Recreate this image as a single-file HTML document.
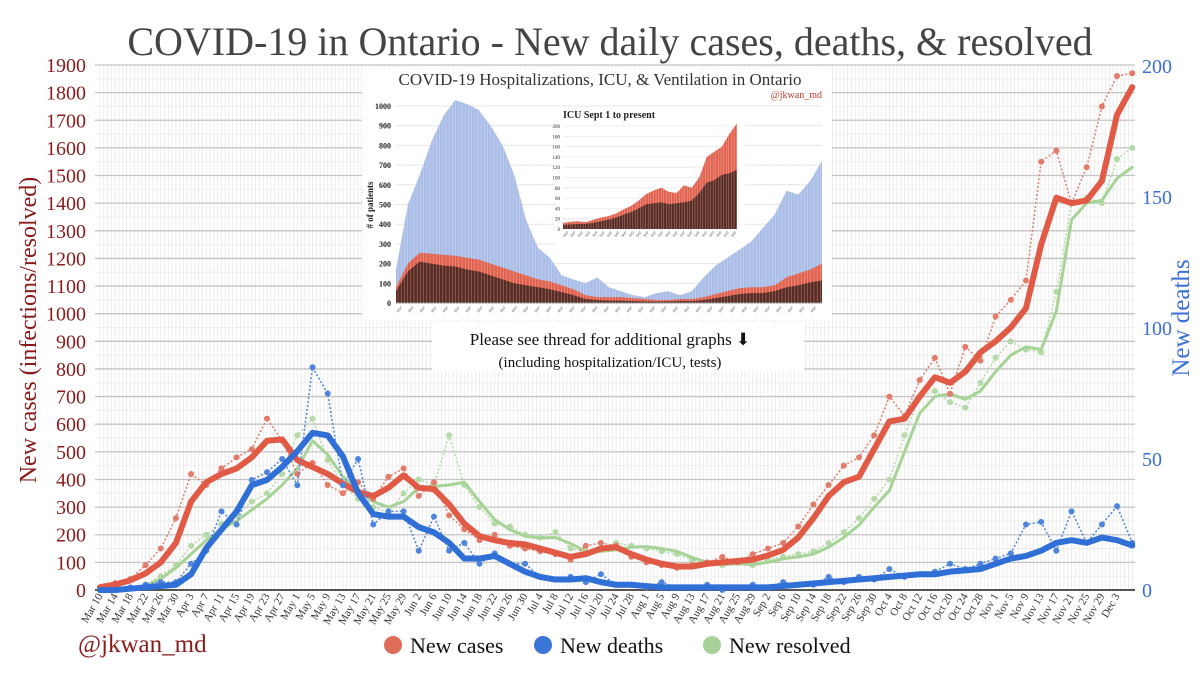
<!DOCTYPE html>
<html><head><meta charset="utf-8">
<style>
html,body{margin:0;padding:0;background:#fff;}
svg{display:block;font-family:"Liberation Serif",serif;}
</style></head>
<body>
<svg id="chart" width="1200" height="683" viewBox="0 0 1200 683" xmlns="http://www.w3.org/2000/svg">
<rect x="0" y="0" width="1200" height="683" fill="#fff"/>
<text x="610" y="55" text-anchor="middle" font-size="40" fill="#444">COVID-19 in Ontario - New daily cases, deaths, &amp; resolved</text>
<g id="grid"></g>
<g id="yleft"></g>
<g id="yright"></g>
<g id="xaxis"></g>
<text transform="translate(36,330) rotate(-90)" text-anchor="middle" font-size="24" fill="#8b1a1a">New cases (infections/resolved)</text>
<text transform="translate(1189,318) rotate(-90)" text-anchor="middle" font-size="25" fill="#3a6fd8">New deaths</text>
<g id="series"></g>
<g id="inset"></g>
<g>
<rect x="432" y="322" width="372" height="50" fill="#fff"/>
<text x="610" y="345" text-anchor="middle" font-size="17" fill="#111">Please see thread for additional graphs ⬇</text>
<text x="610" y="367" text-anchor="middle" font-size="15" fill="#111">(including hospitalization/ICU, tests)</text>
</g>
<text x="78" y="652" font-size="25" fill="#8b1a1a">@jkwan_md</text>
<g>
<g><circle cx="393" cy="645" r="9" fill="#e06c5a"/><text x="410" y="653" font-size="22" fill="#111">New cases</text></g>
<g><circle cx="543" cy="645" r="9" fill="#3c75d8"/><text x="560" y="653" font-size="22" fill="#111">New deaths</text></g>
<g><circle cx="712" cy="645" r="9" fill="#a8d19a"/><text x="729" y="653" font-size="22" fill="#111">New resolved</text></g>
</g>
</svg>
<script>
const casesAvg=[10,20,35,60,100,170,320,390,420,440,480,540,545,470,445,420,385,355,340,370,415,370,365,310,240,195,180,170,165,150,135,120,130,150,155,130,110,95,85,85,95,100,105,110,125,145,190,260,340,390,410,510,610,620,700,770,750,790,860,900,950,1020,1250,1420,1400,1410,1480,1720,1820];
const casesRaw=[5,25,40,90,150,260,420,380,440,480,510,620,540,420,460,380,350,390,330,410,440,340,390,270,220,180,200,160,150,140,130,110,160,170,160,120,100,90,80,90,100,120,100,130,150,170,230,310,380,450,480,560,700,630,760,840,710,880,830,990,1050,1120,1550,1590,1400,1530,1750,1860,1870];
const deathsAvg=[0,0,0.5,1,1.5,2,6,16,23,30,40,42,47,53,60,59,51,37,29,28,28,24,22,18,12,12,13,10,7,5,4,4,4.5,3,2,2,1.5,1,1,1,1,1,1,1,1,1.5,2,2.5,3,3.5,4,4.5,5,5.5,6,6,7,7.5,8,10,12,13,15,18,19,18,20,19,17];
const deathsRaw=[0,0,1,2,3,3,10,15,30,25,42,45,50,40,85,75,40,50,25,30,30,15,28,15,18,10,14,10,10,5,4,5,3,6,2,2,1,3,1,1,2,0,1,2,1,3,2,2,5,3,5,4,8,5,6,7,10,8,10,12,14,25,26,15,30,18,25,32,18];
const resolvedAvg=[0,0,5,15,40,80,130,180,220,250,290,330,380,440,540,490,410,360,320,300,320,370,375,380,390,320,255,218,195,188,190,168,140,140,145,155,157,150,140,118,100,92,95,92,100,113,120,130,155,190,235,300,360,500,640,700,710,690,720,790,850,880,870,1010,1340,1400,1410,1490,1530];
const resolvedRaw=[0,0,5,20,50,90,160,200,240,270,320,350,420,560,620,470,380,330,300,280,350,400,380,560,380,300,240,230,200,190,210,150,140,150,170,160,150,140,130,110,95,90,100,90,110,120,130,140,170,210,260,330,400,560,700,720,680,660,750,840,900,870,860,1080,1400,1420,1400,1560,1600];
const leftTicks=[0,100,200,300,400,500,600,700,800,900,1000,1100,1200,1300,1400,1500,1600,1700,1800,1900];
const rightTicks=[0,50,100,150,200];
const xLabels=["Mar 10","Mar 14","Mar 18","Mar 22","Mar 26","Mar 30","Apr 3","Apr 7","Apr 11","Apr 15","Apr 19","Apr 23","Apr 27","May 1","May 5","May 9","May 13","May 17","May 21","May 25","May 29","Jun 2","Jun 6","Jun 10","Jun 14","Jun 18","Jun 22","Jun 26","Jun 30","Jul 4","Jul 8","Jul 12","Jul 16","Jul 20","Jul 24","Jul 28","Aug 1","Aug 5","Aug 9","Aug 13","Aug 17","Aug 21","Aug 25","Aug 29","Sep 2","Sep 6","Sep 10","Sep 14","Sep 18","Sep 22","Sep 26","Sep 30","Oct 4","Oct 8","Oct 12","Oct 16","Oct 20","Oct 24","Oct 28","Nov 1","Nov 5","Nov 9","Nov 13","Nov 17","Nov 21","Nov 25","Nov 29","Dec 3"];
const hosp=[170,500,650,820,950,1030,1010,980,900,800,650,420,280,230,140,120,100,130,80,60,40,30,50,60,40,60,130,190,230,270,310,380,450,570,550,620,720];
const icu=[80,200,255,250,245,240,230,220,200,180,160,140,120,110,90,70,40,30,30,30,25,20,15,15,20,20,30,45,60,75,80,80,90,130,150,170,200];
const vent=[60,160,210,200,190,185,170,160,140,120,100,90,80,70,55,40,20,15,12,12,10,8,7,8,10,10,15,25,35,45,50,50,60,80,90,105,115];
const icu2=[12,14,15,13,18,22,25,30,38,45,55,68,75,80,72,70,85,80,100,140,150,160,185,205];
const vent2=[8,9,10,10,12,15,18,22,28,33,40,48,50,52,48,50,52,55,70,90,95,105,108,115];
const insetTicks=[0,100,200,300,400,500,600,700,800,900,1000];
const icuTicks=[0,20,40,60,80,100,120,140,160,180,200];

const NS="http://www.w3.org/2000/svg";
const STEP=4, X0=100, PXD=3.795, Y0=590;
function X(d){return X0+d*PXD;}
function YC(v){return Y0-v*(525/1900);}
function YD(v){return Y0-v*(524/200);}
function mk(tag,attrs,parent){const e=document.createElementNS(NS,tag);for(const k in attrs)e.setAttribute(k,attrs[k]);parent.appendChild(e);return e;}

const grid=document.getElementById('grid');
for(let d=0;d<=272;d++){
  const l=mk('line',{x1:X(d),x2:X(d),y1:65,y2:Y0,stroke:'#ececec','stroke-width':1},grid);
  
  
}
for(let v=50;v<=1900;v+=100){
  const l=mk('line',{x1:95,x2:1135,y1:YC(v),y2:YC(v),stroke:'#eeeeee','stroke-width':1},grid);
  
  
}
const yl=document.getElementById('yleft');
leftTicks.forEach(v=>{
  if(v>0){const l=mk('line',{x1:95,x2:1135,y1:YC(v),y2:YC(v),stroke:'#c4c4c4','stroke-width':1.3},grid);
  
  }
  const t=mk('text',{x:86,y:YC(v)+7,'text-anchor':'end','font-size':20,fill:'#8b1a1a'},yl);
  t.textContent=v;
  
  
});
const yr=document.getElementById('yright');
rightTicks.forEach(v=>{
  const t=mk('text',{x:1142,y:YD(v)+7,'font-size':20,fill:'#3a6fd8'},yr);
  t.textContent=v;
  
  
});
const xa=document.getElementById('xaxis');
const base=mk('line',{x1:95,x2:1135,y1:Y0,y2:Y0,stroke:'#555','stroke-width':2},xa);


xLabels.forEach((s,i)=>{
  const x=X(i*4)+3, y=Y0+6;
  const t=mk('text',{transform:`translate(${x},${y}) rotate(-60)`,'text-anchor':'end','font-size':11,fill:'#333'},xa);
  t.textContent=s;
  
  
});

const ser=document.getElementById('series');
function series(raw,avg,ys,color,dotColor,name,w){
  const g=mk('g',{},ser);
  
  
  const rp=raw.map((v,i)=>`${X(i*STEP)},${ys(v)}`).join(' ');
  const rl=mk('polyline',{points:rp,fill:'none',stroke:dotColor,'stroke-width':1.5,'stroke-dasharray':'2 2'},g);
  
  
  raw.forEach((v,i)=>{
    const c=mk('circle',{cx:X(i*STEP),cy:ys(v),r:3,fill:dotColor},g);
    
    
  });
  const ap=avg.map((v,i)=>`${X(i*STEP)},${ys(v)}`).join(' ');
  const al=mk('polyline',{points:ap,fill:'none',stroke:color,'stroke-width':w,'stroke-linejoin':'round','stroke-linecap':'round'},g);
  
  
}
series(resolvedRaw,resolvedAvg,YC,'#a6d396','#b5d9a8','resolved',3);
series(casesRaw,casesAvg,YC,'#e05a45','#e27b6a','cases',6);
series(deathsRaw,deathsAvg,YD,'#2f6fd6','#4f84dc','deaths',6);

// inset
const ins=document.getElementById('inset');
const ib=mk('rect',{x:362,y:68,width:470,height:252,fill:'#fff'},ins);


const it=mk('text',{x:600,y:85,'text-anchor':'middle','font-size':17,fill:'#333'},ins);
it.textContent='COVID-19 Hospitalizations, ICU, & Ventilation in Ontario';


const ic=mk('text',{x:822,y:98,'text-anchor':'end','font-size':10,fill:'#c0392b'},ins);
ic.textContent='@jkwan_md';


const IX0=396,IX1=822,IY0=303,IPX=0.197;
function IY(v){return IY0-v*IPX;}
insetTicks.forEach(v=>{
  const l=mk('line',{x1:IX0,x2:IX1,y1:IY(v),y2:IY(v),stroke:'#e4e4e4','stroke-width':1},ins);
  
  
  const t=mk('text',{x:391,y:IY(v)+3,'text-anchor':'end','font-size':8,'font-weight':'bold',fill:'#222'},ins);
  t.textContent=v;
  
  
});
const iyt=mk('text',{transform:'translate(373,205) rotate(-90)','text-anchor':'middle','font-size':9,'font-weight':'bold',fill:'#222'},ins);
iyt.textContent='# of patients';


function area(arr,color,name,yf,x0,x1,parent){
  const w=(x1-x0)/(arr.length-1);
  let pts=`${x0},${yf(0)} `+arr.map((v,i)=>`${x0+i*w},${yf(v)}`).join(' ')+` ${x1},${yf(0)}`;
  const p=mk('polygon',{points:pts,fill:color},parent);
  
  
}
area(hosp,'#a9bde6','inset-hospitalized-area',IY,IX0,IX1,ins);
area(icu,'#e0624f','inset-icu-area',IY,IX0,IX1,ins);
area(vent,'#5a2a22','inset-ventilated-area',IY,IX0,IX1,ins);
for(let x=IX0+2;x<IX1;x+=3.2){
  const l=mk('line',{x1:x,x2:x,y1:100,y2:IY0,stroke:'#fff','stroke-width':0.5,opacity:0.45},ins);
  
  
}
const ixl=mk('line',{x1:IX0,x2:IX1,y1:IY0,y2:IY0,stroke:'#999','stroke-width':1},ins);


for(let i=0;i<hosp.length;i++){
  const t=mk('text',{transform:`translate(${IX0+i*11.5+6},${IY0+4}) rotate(-60)`,'text-anchor':'end','font-size':4,fill:'#555'},ins);
  t.textContent='Mar';
  
  
}
// inner ICU inset
const JX0=563,JX1=737,JY0=229,JPX=103/200;
function JY(v){return JY0-v*JPX;}
const jb=mk('rect',{x:555,y:108,width:190,height:137,fill:'#fff'},ins);


const jt=mk('text',{x:563,y:118,'font-size':10,'font-weight':'bold',fill:'#222'},ins);
jt.textContent='ICU Sept 1 to present';


icuTicks.forEach(v=>{
  const l=mk('line',{x1:JX0,x2:JX1,y1:JY(v),y2:JY(v),stroke:'#e6e6e6','stroke-width':0.8},ins);
  
  
  const t=mk('text',{x:560,y:JY(v)+2,'text-anchor':'end','font-size':5,fill:'#222'},ins);
  t.textContent=v;
  
  
});
area(icu2,'#e0624f','icu-inset-icu-area',JY,JX0,JX1,ins);
area(vent2,'#5a2a22','icu-inset-ventilated-area',JY,JX0,JX1,ins);
for(let x=JX0+2;x<JX1;x+=2.6){
  const l=mk('line',{x1:x,x2:x,y1:120,y2:JY0,stroke:'#fff','stroke-width':0.5,opacity:0.45},ins);
  
  
}
for(let i=0;i<icu2.length;i++){
  const t=mk('text',{transform:`translate(${JX0+i*7.3+5},${JY0+3}) rotate(-60)`,'text-anchor':'end','font-size':4,fill:'#555'},ins);
  t.textContent='Sep';
  
  
}
</script>
</body></html>
